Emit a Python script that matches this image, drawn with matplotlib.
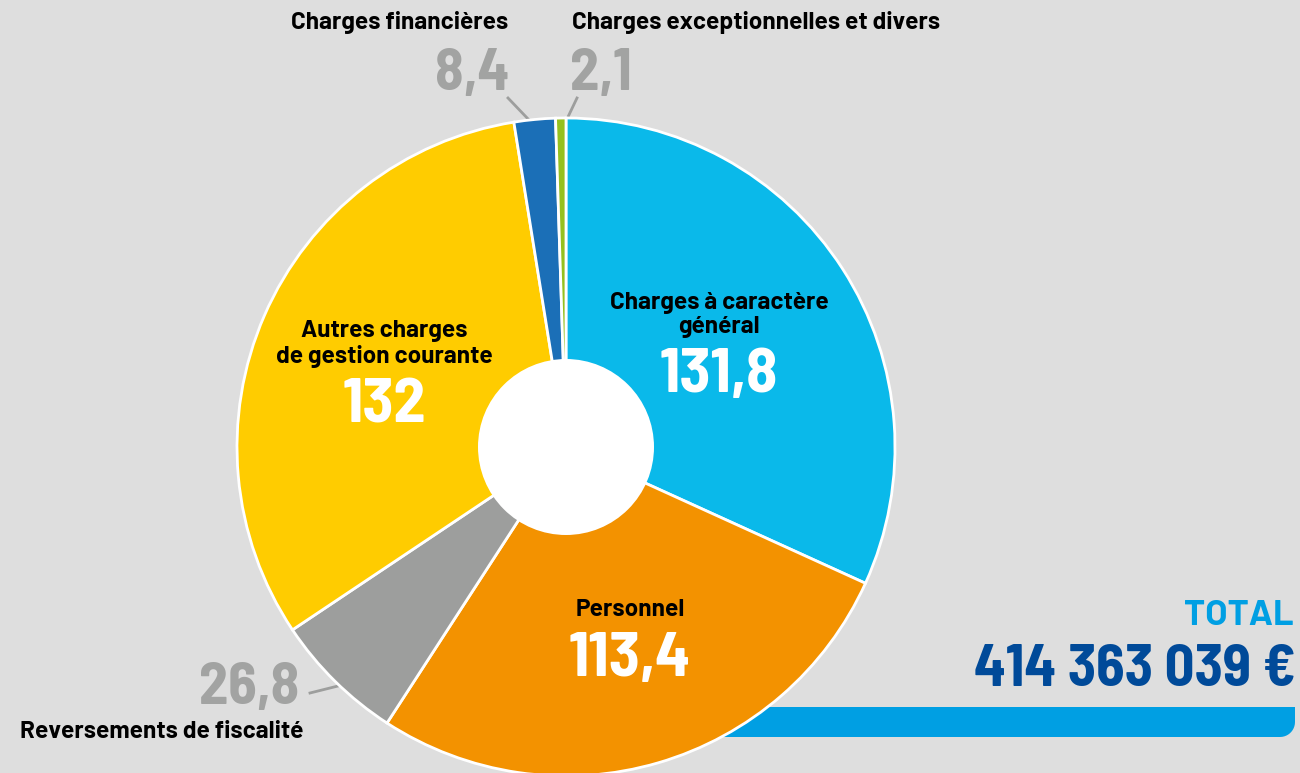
import numpy as np
import matplotlib
matplotlib.use('Agg')
import matplotlib.pyplot as plt
from matplotlib.patches import Circle, PathPatch
from matplotlib.path import Path

# donnees (millions d'euros)
categories = ['Charges à caractère\ngénéral', 'Personnel', 'Reversements de fiscalité',
              'Autres charges\nde gestion courante', 'Charges financières',
              'Charges exceptionnelles et divers']
valeurs = [131.8, 113.4, 26.8, 132, 8.4, 2.1]
etiquettes = ['131,8', '113,4', '26,8', '132', '8,4', '2,1']
couleurs = ['#0ab9ea', '#f39200', '#9d9e9d', '#ffcc00', '#1b6fb7', '#95c11f']
total_txt = '414 363 039 €'

W, H = 1300, 773
fond = '#dedede'
police_etroite = ['Barlow Semi Condensed', 'Roboto Condensed', 'Saira SemiCondensed', 'DejaVu Sans']
police_texte = ['Barlow', 'Roboto', 'DejaVu Sans']
plt.rcParams['font.family'] = police_etroite

fig = plt.figure(figsize=(W / 100, H / 100), dpi=100, facecolor=fond)
ax = fig.add_axes([0, 0, 1, 1])

def Y(y):  # coordonnees image -> axes
    return H - y

# camembert
cx, cy, R = 566, Y(447), 329
ax.pie(valeurs, colors=couleurs, startangle=90, counterclock=False,
       center=(cx, cy), radius=R, frame=True,
       wedgeprops=dict(edgecolor='white', linewidth=2, zorder=2))
ax.set_xlim(0, W)
ax.set_ylim(0, H)
ax.set_aspect('equal')
ax.axis('off')
ax.add_patch(Circle((cx, cy), 88, facecolor='white', edgecolor='none', zorder=3))

# barre bleue du total (coin bas droit arrondi)
x0, x1, yh, yb, r = 700, 1295, Y(707), Y(737), 15
t = np.linspace(0, -np.pi / 2, 12)
pts = [(x0, yh), (x1, yh), (x1, yb + r)]
pts += [(x1 - r + r * np.cos(a), yb + r + r * np.sin(a)) for a in t]
pts += [(x0, yb), (x0, yh)]
ax.add_patch(PathPatch(Path(pts), facecolor='#009fe3', edgecolor='none', zorder=1))

lab = dict(family=police_texte, fontsize=17.5, fontweight='bold', color='black',
           va='center', linespacing=1.15, zorder=5)
val = dict(fontsize=46, fontweight='bold', color='white', ha='center', va='center', zorder=5)
gris = dict(fontsize=42, fontweight='bold', color='#a2a3a2', va='center', zorder=5)

# etiquettes dans les parts
ax.text(719, Y(315), categories[0], ha='center', **lab)
ax.text(719, Y(376), etiquettes[0], **val)
ax.text(630, Y(610), categories[1], ha='center', **lab)
ax.text(630, Y(660), etiquettes[1], **val)
ax.text(384, Y(344), categories[3], ha='center', **lab)
ax.text(384, Y(406), etiquettes[3], **val)

# etiquettes exterieures
ax.text(299, Y(689), etiquettes[2], ha='right', **gris)
ax.text(20, Y(732), categories[2], ha='left', **lab)
ax.plot([310, 338], [Y(693), Y(686)], color='#9d9e9d', lw=2, zorder=1)

ax.text(472, Y(74), etiquettes[4], ha='center', **gris)
ax.text(601, Y(74), etiquettes[5], ha='center', **gris)
ax.plot([508, 530], [Y(98), Y(121)], color='#9d9e9d', lw=2, zorder=1)
ax.plot([577, 567], [Y(98), Y(119)], color='#9d9e9d', lw=2, zorder=1)
ax.text(291, Y(23), categories[4], ha='left', **lab)
ax.text(572, Y(23), categories[5], ha='left', **lab)

# total
ax.text(1294, Y(616), 'TOTAL', family=police_texte, fontsize=26, fontweight='bold',
        color='#009fe3', ha='right', va='center')
ax.text(1296, Y(671), total_txt, fontsize=42, fontweight='bold', color='#004a99',
        ha='right', va='center')

fig.savefig('out.png', dpi=100, facecolor=fond)
